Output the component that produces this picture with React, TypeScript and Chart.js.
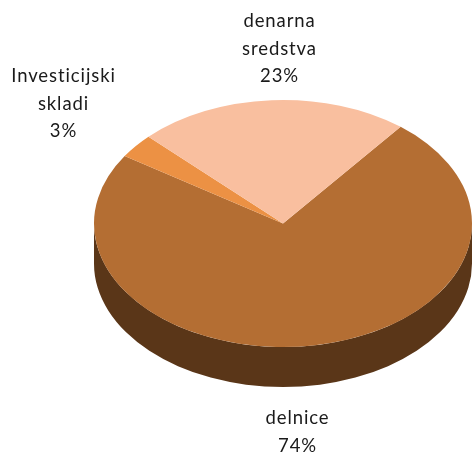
import React, { useEffect, useRef } from "react";
import { Chart, registerables } from "chart.js";

Chart.register(...registerables);

const categories = ["delnice", "Investicijski skladi", "denarna sredstva"];
const shares = [73.5, 3.2, 23.3];
const topColors = ["#B46E33", "#EC9144", "#F9BF9F"];
const sideColors = ["#5A3618", "#76481F", "#7C5F4F"];
const labelLines = [["delnice"], ["Investicijski", "skladi"], ["denarna", "sredstva"]];
const labelAnchors = [
  { x: 297.5, y: 424 },
  { x: 63.5, y: 82 },
  { x: 279.5, y: 27 },
];
const firstSliceAngle = 38.5;
const tilt = 123.5 / 189;
const depth = 40;
const lineStep = 27.5;

const piePlugin = {
  id: "tiltedPie",
  beforeDatasetDraw(chart: any) {
    const ctx = chart.ctx;
    const arcs = chart.getDatasetMeta(0).data;
    const { x, y } = arcs[0].getProps(["x", "y"], true);
    arcs.forEach((arc: any, i: number) => {
      const p = arc.getProps(["startAngle", "endAngle", "outerRadius"], true);
      const r = p.outerRadius;
      // only the front half of the rim can be seen
      const from = Math.max(p.startAngle, 0);
      const to = Math.min(p.endAngle, Math.PI);
      if (from >= to) return;
      ctx.fillStyle = sideColors[i];
      ctx.beginPath();
      ctx.ellipse(x, y + depth, r, r * tilt, 0, from, to);
      ctx.ellipse(x, y, r, r * tilt, 0, to, from, true);
      ctx.closePath();
      ctx.fill();
    });
    ctx.save();
    ctx.translate(x, y);
    ctx.scale(1, tilt);
    ctx.translate(-x, -y);
  },
  afterDatasetDraw(chart: any) {
    chart.ctx.restore();
  },
  afterDraw(chart: any) {
    const ctx = chart.ctx;
    ctx.save();
    ctx.font = '18.5px Lato, "Open Sans", sans-serif';
    ctx.fillStyle = "#1a1a1a";
    ctx.textAlign = "center";
    ctx.textBaseline = "alphabetic";
    (ctx as any).letterSpacing = "0.9px";
    labelLines.forEach((lines, i) => {
      const all = [...lines, `${Math.round(shares[i])}%`];
      all.forEach((text, j) => {
        ctx.fillText(text, labelAnchors[i].x, labelAnchors[i].y + j * lineStep);
      });
    });
    ctx.restore();
  },
};

export default function App() {
  const ref = useRef<HTMLCanvasElement>(null);
  useEffect(() => {
    const chart = new Chart(ref.current!, {
      type: "pie",
      data: {
        labels: categories,
        datasets: [
          {
            data: shares,
            backgroundColor: topColors,
            borderWidth: 0,
            hoverOffset: 0,
          },
        ],
      },
      options: {
        animation: false,
        responsive: false,
        rotation: firstSliceAngle,
        layout: { padding: { left: 94, right: 0, top: 0, bottom: 5 } },
        plugins: { legend: { display: false }, tooltip: { enabled: false } },
      },
      plugins: [piePlugin],
    } as any);
    return () => chart.destroy();
  }, []);
  return (
    <canvas
      ref={ref}
      width={472}
      height={452}
      style={{ position: "absolute", left: 0, top: 0, display: "block" }}
    />
  );
}
